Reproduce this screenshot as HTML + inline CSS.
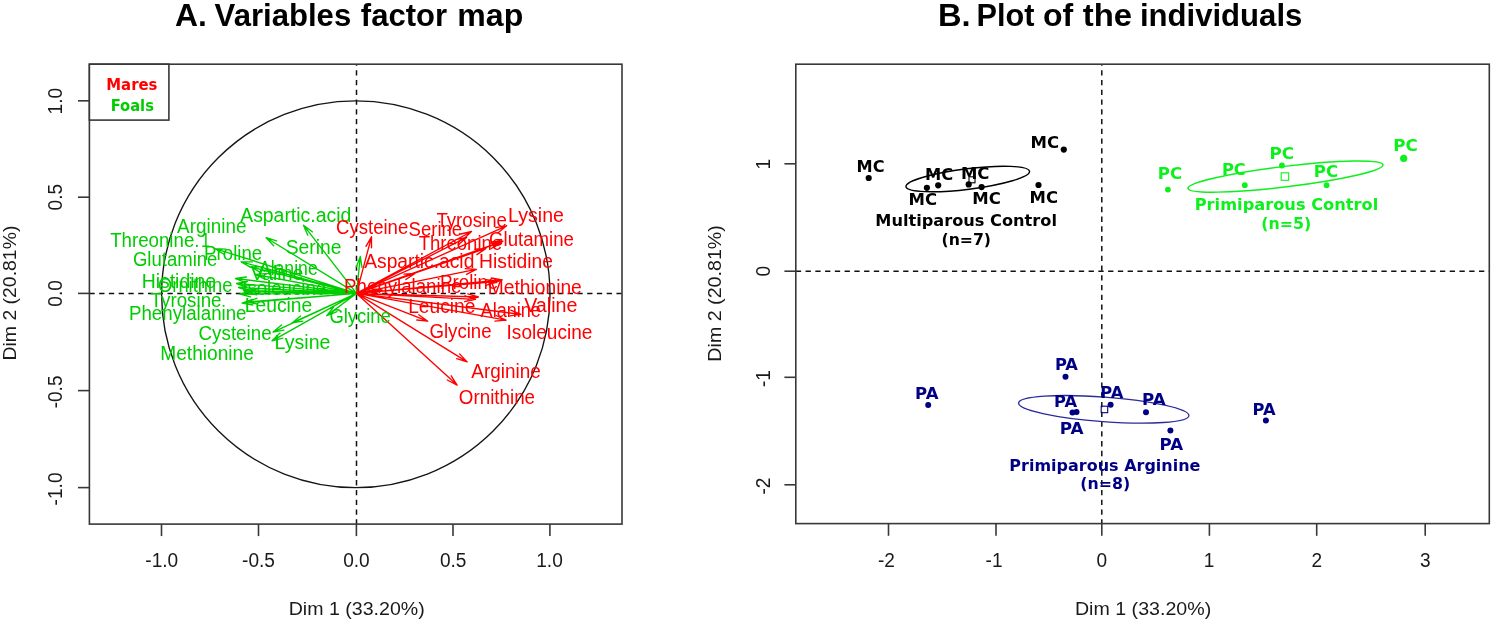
<!DOCTYPE html>
<html lang="en">
<head>
<meta charset="utf-8">
<title>PCA of amino acids: variables factor map and plot of the individuals</title>
<style>
html,body{margin:0;padding:0;background:#fff;}
body{width:1491px;height:620px;overflow:hidden;}
svg{display:block;will-change:transform;}
text{white-space:pre;}
</style>
</head>
<body>
<svg width="1491" height="620" viewBox="0 0 1491 620">
<rect width="1491" height="620" fill="#fff"/>
<g font-family='"Liberation Sans", Arial, sans-serif'>
<text y="25.50" font-size="31.0" font-weight="bold" fill="#000"><tspan x="175.00" textLength="31.82" lengthAdjust="spacingAndGlyphs">A.</tspan> <tspan x="214.64" textLength="136.57" lengthAdjust="spacingAndGlyphs">Variables</tspan> <tspan x="360.83" textLength="86.28" lengthAdjust="spacingAndGlyphs">factor</tspan> <tspan x="457.32" textLength="65.90" lengthAdjust="spacingAndGlyphs">map</tspan></text>
<text y="25.50" font-size="31.0" font-weight="bold" fill="#000"><tspan x="937.98" textLength="32.60" lengthAdjust="spacingAndGlyphs">B.</tspan> <tspan x="976.51" textLength="57.91" lengthAdjust="spacingAndGlyphs">Plot</tspan> <tspan x="1042.92" textLength="30.25" lengthAdjust="spacingAndGlyphs">of</tspan> <tspan x="1082.77" textLength="49.38" lengthAdjust="spacingAndGlyphs">the</tspan> <tspan x="1139.92" textLength="162.42" lengthAdjust="spacingAndGlyphs">individuals</tspan></text>
<g stroke="#111" stroke-width="1.5" stroke-dasharray="5.3 4.46" fill="none">
<line x1="89.4" y1="293.4" x2="622.0" y2="293.4"/>
<line x1="356.5" y1="64.2" x2="356.5" y2="524.1" stroke-dashoffset="3.76"/>
</g>
<ellipse cx="355.8" cy="294.3" rx="194.2" ry="193.4" fill="none" stroke="#151515" stroke-width="1.35"/>
<g stroke="#383838" stroke-width="1.6" fill="none">
<rect x="89.4" y="64.2" width="532.6" height="459.9"/>
<rect x="89.4" y="64.2" width="79.5" height="55.9" fill="#fff"/>
<line x1="161.5" y1="524.1" x2="161.5" y2="536.1"/>
<line x1="89.4" y1="487.6" x2="78.0" y2="487.6"/>
<line x1="258.5" y1="524.1" x2="258.5" y2="536.1"/>
<line x1="89.4" y1="390.6" x2="78.0" y2="390.6"/>
<line x1="356.4" y1="524.1" x2="356.4" y2="536.1"/>
<line x1="89.4" y1="293.4" x2="78.0" y2="293.4"/>
<line x1="453.0" y1="524.1" x2="453.0" y2="536.1"/>
<line x1="89.4" y1="197.2" x2="78.0" y2="197.2"/>
<line x1="549.9" y1="524.1" x2="549.9" y2="536.1"/>
<line x1="89.4" y1="100.8" x2="78.0" y2="100.8"/>
</g>
<text x="145.28" y="567.00" font-size="19.6" font-weight="normal" fill="#1a1a1a" textLength="32.91" lengthAdjust="spacingAndGlyphs" >-1.0</text>
<text transform="rotate(-90)" x="-505.42" y="62.30" font-size="19.6" font-weight="normal" fill="#1a1a1a" textLength="32.91" lengthAdjust="spacingAndGlyphs">-1.0</text>
<text x="242.03" y="567.00" font-size="19.6" font-weight="normal" fill="#1a1a1a" textLength="32.91" lengthAdjust="spacingAndGlyphs" >-0.5</text>
<text transform="rotate(-90)" x="-408.37" y="62.30" font-size="19.6" font-weight="normal" fill="#1a1a1a" textLength="32.91" lengthAdjust="spacingAndGlyphs">-0.5</text>
<text x="343.18" y="567.00" font-size="19.6" font-weight="normal" fill="#1a1a1a" textLength="26.55" lengthAdjust="spacingAndGlyphs" >0.0</text>
<text transform="rotate(-90)" x="-306.72" y="62.30" font-size="19.6" font-weight="normal" fill="#1a1a1a" textLength="26.55" lengthAdjust="spacingAndGlyphs">0.0</text>
<text x="439.93" y="567.00" font-size="19.6" font-weight="normal" fill="#1a1a1a" textLength="26.55" lengthAdjust="spacingAndGlyphs" >0.5</text>
<text transform="rotate(-90)" x="-210.47" y="62.30" font-size="19.6" font-weight="normal" fill="#1a1a1a" textLength="26.55" lengthAdjust="spacingAndGlyphs">0.5</text>
<text x="536.24" y="567.00" font-size="19.6" font-weight="normal" fill="#1a1a1a" textLength="26.55" lengthAdjust="spacingAndGlyphs" >1.0</text>
<text transform="rotate(-90)" x="-114.46" y="62.30" font-size="19.6" font-weight="normal" fill="#1a1a1a" textLength="26.55" lengthAdjust="spacingAndGlyphs">1.0</text>
<text x="288.73" y="614.60" font-size="18.9" font-weight="normal" fill="#1a1a1a" textLength="135.98" lengthAdjust="spacingAndGlyphs" >Dim 1 (33.20%)</text>
<text transform="rotate(-90)" x="-360.55" y="15.60" font-size="18.9" font-weight="normal" fill="#1a1a1a" textLength="134.96" lengthAdjust="spacingAndGlyphs">Dim 2 (20.81%)</text>
<path fill="none" stroke="#00cd00" stroke-width="1.35" stroke-linecap="round" d="M356.5 293.4L303.5 225.2M303.5 225.2L312.3 231.8M303.5 225.2L307.8 235.3M356.5 293.4L266.1 237.7M266.1 237.7L276.6 240.8M266.1 237.7L273.7 245.7M356.5 293.4L215.0 248.6M215.0 248.6L226.0 249.1M215.0 248.6L224.3 254.5M356.5 293.4L241.2 261.8M241.2 261.8L252.2 261.9M241.2 261.8L250.7 267.4M356.5 293.4L250.8 267.0M250.8 267.0L261.8 266.8M250.8 267.0L260.4 272.3M356.5 293.4L255.0 274.5M255.0 274.5L266.0 273.6M255.0 274.5L264.9 279.2M356.5 293.4L235.5 278.5M235.5 278.5L246.4 277.0M235.5 278.5L245.7 282.6M356.5 293.4L236.5 283.5M236.5 283.5L247.3 281.5M236.5 283.5L246.9 287.2M356.5 293.4L238.5 287.5M238.5 287.5L249.3 285.2M238.5 287.5L249.0 290.9M356.5 293.4L243.5 290.5M243.5 290.5L254.2 287.9M243.5 290.5L254.0 293.6M356.5 293.4L240.0 294.0M240.0 294.0L250.6 291.1M240.0 294.0L250.6 296.8M356.5 293.4L246.0 291.8M246.0 291.8L256.7 289.1M246.0 291.8L256.6 294.8M356.5 293.4L242.1 303.1M242.1 303.1L252.4 299.4M242.1 303.1L252.9 305.0M356.5 293.4L246.5 302.0M246.5 302.0L256.9 298.3M246.5 302.0L257.3 304.0M356.5 293.4L326.8 315.7M326.8 315.7L333.6 307.0M326.8 315.7L337.0 311.6M356.5 293.4L292.0 322.9M292.0 322.9L300.5 315.9M292.0 322.9L302.8 321.1M356.5 293.4L273.1 332.1M273.1 332.1L281.5 325.0M273.1 332.1L283.9 330.2M356.5 293.4L272.1 340.8M272.1 340.8L280.0 333.1M272.1 340.8L282.8 338.1"/>
<path fill="none" stroke="#00cd00" stroke-width="1.35" stroke-linecap="round" d="M356.5 293.4L360.3 256.5M360.3 256.5L362.0 267.4M360.3 256.5L356.4 266.8"/>
<path fill="none" stroke="#ff0000" stroke-width="1.35" stroke-linecap="round" d="M356.5 293.4L371.5 236.8M371.5 236.8L371.5 247.8M371.5 236.8L366.0 246.3M356.5 293.4L506.6 225.8M506.6 225.8L498.1 232.8M506.6 225.8L495.7 227.6M356.5 293.4L471.5 231.5M471.5 231.5L463.5 239.0M471.5 231.5L460.8 234.0M356.5 293.4L466.6 237.4M466.6 237.4L458.4 244.8M466.6 237.4L455.8 239.7M356.5 293.4L502.9 241.1M502.9 241.1L493.9 247.4M502.9 241.1L491.9 242.0M356.5 293.4L500.5 242.3M500.5 242.3L491.4 248.5M500.5 242.3L489.5 243.2M356.5 293.4L486.0 248.4M486.0 248.4L476.9 254.6M486.0 248.4L475.0 249.2M356.5 293.4L476.3 269.4M476.3 269.4L466.4 274.3M476.3 269.4L465.3 268.7M356.5 293.4L502.1 279.8M502.1 279.8L491.8 283.6M502.1 279.8L491.3 278.0M356.5 293.4L497.0 281.5M497.0 281.5L486.7 285.2M497.0 281.5L486.2 279.6M356.5 293.4L415.0 273.4M415.0 273.4L405.9 279.5M415.0 273.4L404.0 274.1M356.5 293.4L382.0 290.0M382.0 290.0L371.8 294.2M382.0 290.0L371.1 288.6M356.5 293.4L478.4 297.0M478.4 297.0L467.7 299.5M478.4 297.0L467.9 293.8M356.5 293.4L475.4 299.3M475.4 299.3L464.6 301.6M475.4 299.3L464.9 295.9M356.5 293.4L520.9 314.4M520.9 314.4L510.0 315.9M520.9 314.4L510.7 310.2M356.5 293.4L506.0 320.2M506.0 320.2L495.0 321.1M506.0 320.2L496.0 315.5M356.5 293.4L427.7 321.2M427.7 321.2L416.8 320.0M427.7 321.2L418.8 314.7M356.5 293.4L467.1 361.9M467.1 361.9L456.6 358.7M467.1 361.9L459.6 353.9M356.5 293.4L457.1 385.1M457.1 385.1L447.3 380.0M457.1 385.1L451.2 375.8"/>
<text x="240.20" y="222.25" font-size="19.5" font-weight="normal" fill="#00cd00" textLength="111.06" lengthAdjust="spacingAndGlyphs" >Aspartic.acid</text>
<text x="177.10" y="233.05" font-size="19.5" font-weight="normal" fill="#00cd00" textLength="69.33" lengthAdjust="spacingAndGlyphs" >Arginine</text>
<text x="204.11" y="260.15" font-size="19.5" font-weight="normal" fill="#00cd00" textLength="58.09" lengthAdjust="spacingAndGlyphs" >Proline</text>
<text x="132.97" y="266.25" font-size="19.5" font-weight="normal" fill="#00cd00" textLength="84.41" lengthAdjust="spacingAndGlyphs" >Glutamine</text>
<text x="285.63" y="253.65" font-size="19.5" font-weight="normal" fill="#00cd00" textLength="55.75" lengthAdjust="spacingAndGlyphs" >Serine</text>
<text x="258.90" y="274.65" font-size="19.5" font-weight="normal" fill="#00cd00" textLength="58.81" lengthAdjust="spacingAndGlyphs" >Alanine</text>
<text x="250.70" y="279.55" font-size="19.5" font-weight="normal" fill="#00cd00" textLength="52.59" lengthAdjust="spacingAndGlyphs" >Valine</text>
<text x="141.65" y="287.55" font-size="19.5" font-weight="normal" fill="#00cd00" textLength="74.53" lengthAdjust="spacingAndGlyphs" >Histidine</text>
<text x="158.08" y="292.45" font-size="19.5" font-weight="normal" fill="#00cd00" textLength="74.30" lengthAdjust="spacingAndGlyphs" >Ornithine</text>
<text x="242.22" y="295.25" font-size="19.5" font-weight="normal" fill="#00cd00" textLength="83.97" lengthAdjust="spacingAndGlyphs" >Isoleucine</text>
<text x="150.62" y="306.85" font-size="19.5" font-weight="normal" fill="#00cd00" textLength="70.91" lengthAdjust="spacingAndGlyphs" >Tyrosine</text>
<text x="244.76" y="312.05" font-size="19.5" font-weight="normal" fill="#00cd00" textLength="67.47" lengthAdjust="spacingAndGlyphs" >Leucine</text>
<text x="129.00" y="320.45" font-size="19.5" font-weight="normal" fill="#00cd00" textLength="117.49" lengthAdjust="spacingAndGlyphs" >Phenylalanine</text>
<text x="329.38" y="322.95" font-size="19.5" font-weight="normal" fill="#00cd00" textLength="61.44" lengthAdjust="spacingAndGlyphs" >Glycine</text>
<text x="198.56" y="340.15" font-size="19.5" font-weight="normal" fill="#00cd00" textLength="73.10" lengthAdjust="spacingAndGlyphs" >Cysteine</text>
<text x="274.64" y="349.25" font-size="19.5" font-weight="normal" fill="#00cd00" textLength="55.82" lengthAdjust="spacingAndGlyphs" >Lysine</text>
<text x="160.27" y="360.25" font-size="19.5" font-weight="normal" fill="#00cd00" textLength="93.64" lengthAdjust="spacingAndGlyphs" >Methionine</text>
<text y="246.95" font-size="19.5" font-weight="normal" fill="#00cd00"><tspan x="110.13" textLength="89.37" lengthAdjust="spacingAndGlyphs">Threonine.</tspan><tspan x="200.96" textLength="9.21" lengthAdjust="spacingAndGlyphs">1</tspan></text>
<text x="336.07" y="233.75" font-size="19.5" font-weight="normal" fill="#ff0000" textLength="72.18" lengthAdjust="spacingAndGlyphs" >Cysteine</text>
<text x="408.57" y="236.45" font-size="19.5" font-weight="normal" fill="#ff0000" textLength="53.58" lengthAdjust="spacingAndGlyphs" >Serine</text>
<text x="436.43" y="226.75" font-size="19.5" font-weight="normal" fill="#ff0000" textLength="70.50" lengthAdjust="spacingAndGlyphs" >Tyrosine</text>
<text x="508.14" y="222.45" font-size="19.5" font-weight="normal" fill="#ff0000" textLength="55.82" lengthAdjust="spacingAndGlyphs" >Lysine</text>
<text x="418.63" y="249.85" font-size="19.5" font-weight="normal" fill="#ff0000" textLength="83.56" lengthAdjust="spacingAndGlyphs" >Threonine</text>
<text x="489.07" y="246.15" font-size="19.5" font-weight="normal" fill="#ff0000" textLength="84.92" lengthAdjust="spacingAndGlyphs" >Glutamine</text>
<text x="364.20" y="268.05" font-size="19.5" font-weight="normal" fill="#ff0000" textLength="110.15" lengthAdjust="spacingAndGlyphs" >Aspartic.acid</text>
<text x="479.06" y="267.55" font-size="19.5" font-weight="normal" fill="#ff0000" textLength="73.91" lengthAdjust="spacingAndGlyphs" >Histidine</text>
<text x="344.11" y="292.55" font-size="19.5" font-weight="normal" fill="#ff0000" textLength="117.29" lengthAdjust="spacingAndGlyphs" >Phenylalanine</text>
<text x="440.11" y="288.55" font-size="19.5" font-weight="normal" fill="#ff0000" textLength="58.09" lengthAdjust="spacingAndGlyphs" >Proline</text>
<text x="487.76" y="294.15" font-size="19.5" font-weight="normal" fill="#ff0000" textLength="94.05" lengthAdjust="spacingAndGlyphs" >Methionine</text>
<text x="408.16" y="312.55" font-size="19.5" font-weight="normal" fill="#ff0000" textLength="67.26" lengthAdjust="spacingAndGlyphs" >Leucine</text>
<text x="480.60" y="317.45" font-size="19.5" font-weight="normal" fill="#ff0000" textLength="60.33" lengthAdjust="spacingAndGlyphs" >Alanine</text>
<text x="524.20" y="311.65" font-size="19.5" font-weight="normal" fill="#ff0000" textLength="53.30" lengthAdjust="spacingAndGlyphs" >Valine</text>
<text x="429.47" y="337.95" font-size="19.5" font-weight="normal" fill="#ff0000" textLength="62.06" lengthAdjust="spacingAndGlyphs" >Glycine</text>
<text x="506.59" y="339.15" font-size="19.5" font-weight="normal" fill="#ff0000" textLength="85.73" lengthAdjust="spacingAndGlyphs" >Isoleucine</text>
<text x="471.30" y="378.25" font-size="19.5" font-weight="normal" fill="#ff0000" textLength="69.54" lengthAdjust="spacingAndGlyphs" >Arginine</text>
<text x="458.86" y="404.45" font-size="19.5" font-weight="normal" fill="#ff0000" textLength="76.14" lengthAdjust="spacingAndGlyphs" >Ornithine</text>
</g>
<g font-family='"DejaVu Sans", Verdana, sans-serif'>
<text x="106.26" y="90.00" font-size="15.0" font-weight="bold" fill="#ff0000" textLength="51.24" lengthAdjust="spacingAndGlyphs" >Mares</text>
<text x="110.68" y="110.80" font-size="15.0" font-weight="bold" fill="#00cd00" textLength="43.22" lengthAdjust="spacingAndGlyphs" >Foals</text>
</g>
<g stroke="#111" stroke-width="1.5" stroke-dasharray="5.3 4.46" fill="none">
<line x1="795.8" y1="271.2" x2="1489.3" y2="271.2"/>
<line x1="1101.8" y1="64.2" x2="1101.8" y2="523.6" stroke-dashoffset="3.76"/>
</g>
<g stroke="#383838" stroke-width="1.6" fill="none">
<rect x="795.8" y="64.2" width="693.5" height="459.4"/>
<line x1="888.5" y1="523.6" x2="888.5" y2="535.8"/>
<line x1="996.0" y1="523.6" x2="996.0" y2="535.8"/>
<line x1="1101.8" y1="523.6" x2="1101.8" y2="535.8"/>
<line x1="1209.4" y1="523.6" x2="1209.4" y2="535.8"/>
<line x1="1316.7" y1="523.6" x2="1316.7" y2="535.8"/>
<line x1="1425.2" y1="523.6" x2="1425.2" y2="535.8"/>
<line x1="795.8" y1="484.8" x2="784.4" y2="484.8"/>
<line x1="795.8" y1="377.3" x2="784.4" y2="377.3"/>
<line x1="795.8" y1="271.2" x2="784.4" y2="271.2"/>
<line x1="795.8" y1="163.8" x2="784.4" y2="163.8"/>
</g>
<g font-family='"Liberation Sans", Arial, sans-serif'>
<text x="877.94" y="567.00" font-size="19.6" font-weight="normal" fill="#1a1a1a" textLength="16.98" lengthAdjust="spacingAndGlyphs" >-2</text>
<text x="985.54" y="567.00" font-size="19.6" font-weight="normal" fill="#1a1a1a" textLength="16.98" lengthAdjust="spacingAndGlyphs" >-1</text>
<text x="1096.45" y="567.00" font-size="19.6" font-weight="normal" fill="#1a1a1a" textLength="10.62" lengthAdjust="spacingAndGlyphs" >0</text>
<text x="1203.81" y="567.00" font-size="19.6" font-weight="normal" fill="#1a1a1a" textLength="10.62" lengthAdjust="spacingAndGlyphs" >1</text>
<text x="1311.40" y="567.00" font-size="19.6" font-weight="normal" fill="#1a1a1a" textLength="10.62" lengthAdjust="spacingAndGlyphs" >2</text>
<text x="1419.90" y="567.00" font-size="19.6" font-weight="normal" fill="#1a1a1a" textLength="10.62" lengthAdjust="spacingAndGlyphs" >3</text>
<text transform="rotate(-90)" x="-494.55" y="769.80" font-size="19.6" font-weight="normal" fill="#1a1a1a" textLength="16.98" lengthAdjust="spacingAndGlyphs">-2</text>
<text transform="rotate(-90)" x="-387.10" y="769.80" font-size="19.6" font-weight="normal" fill="#1a1a1a" textLength="16.98" lengthAdjust="spacingAndGlyphs">-1</text>
<text transform="rotate(-90)" x="-276.55" y="769.80" font-size="19.6" font-weight="normal" fill="#1a1a1a" textLength="10.62" lengthAdjust="spacingAndGlyphs">0</text>
<text transform="rotate(-90)" x="-169.39" y="769.80" font-size="19.6" font-weight="normal" fill="#1a1a1a" textLength="10.62" lengthAdjust="spacingAndGlyphs">1</text>
<text x="1074.93" y="614.60" font-size="18.9" font-weight="normal" fill="#1a1a1a" textLength="136.28" lengthAdjust="spacingAndGlyphs" >Dim 1 (33.20%)</text>
<text transform="rotate(-90)" x="-361.67" y="721.20" font-size="18.9" font-weight="normal" fill="#1a1a1a" textLength="136.49" lengthAdjust="spacingAndGlyphs">Dim 2 (20.81%)</text>
</g>
<g font-family='"DejaVu Sans", Verdana, sans-serif'>
<ellipse cx="967.8" cy="179.0" rx="62.3" ry="10.3" transform="rotate(-7.1 967.8 179.0)" fill="none" stroke="#000000" stroke-width="1.4"/>
<rect x="969.0" y="176.8" width="6.0" height="6.0" fill="none" stroke="#000000" stroke-width="1.1"/>
<circle cx="868.7" cy="178.0" r="3.1" fill="#000000"/>
<circle cx="926.9" cy="187.8" r="3.1" fill="#000000"/>
<circle cx="938.2" cy="185.3" r="3.1" fill="#000000"/>
<circle cx="968.7" cy="184.4" r="3.1" fill="#000000"/>
<circle cx="981.6" cy="187.1" r="3.1" fill="#000000"/>
<circle cx="1038.5" cy="185.0" r="3.1" fill="#000000"/>
<circle cx="1063.8" cy="149.6" r="3.1" fill="#000000"/>
<text x="856.64" y="172.40" font-size="15.0" font-weight="bold" fill="#000000" textLength="27.99" lengthAdjust="spacingAndGlyphs" >MC</text>
<text x="908.51" y="205.10" font-size="15.0" font-weight="bold" fill="#000000" textLength="28.54" lengthAdjust="spacingAndGlyphs" >MC</text>
<text x="925.03" y="180.30" font-size="15.0" font-weight="bold" fill="#000000" textLength="28.21" lengthAdjust="spacingAndGlyphs" >MC</text>
<text x="960.91" y="179.20" font-size="15.0" font-weight="bold" fill="#000000" textLength="28.54" lengthAdjust="spacingAndGlyphs" >MC</text>
<text x="972.21" y="204.20" font-size="15.0" font-weight="bold" fill="#000000" textLength="28.54" lengthAdjust="spacingAndGlyphs" >MC</text>
<text x="1029.62" y="203.10" font-size="15.0" font-weight="bold" fill="#000000" textLength="28.43" lengthAdjust="spacingAndGlyphs" >MC</text>
<text x="1030.51" y="148.00" font-size="15.0" font-weight="bold" fill="#000000" textLength="28.54" lengthAdjust="spacingAndGlyphs" >MC</text>
<text x="875.34" y="226.10" font-size="15.0" font-weight="bold" fill="#000000" textLength="181.67" lengthAdjust="spacingAndGlyphs" >Multiparous Control</text>
<text x="941.47" y="244.90" font-size="15.0" font-weight="bold" fill="#000000" textLength="49.56" lengthAdjust="spacingAndGlyphs" >(n=7)</text>
<ellipse cx="1285.5" cy="176.6" rx="98.2" ry="10.3" transform="rotate(-6.86 1285.5 176.6)" fill="none" stroke="#0cf01c" stroke-width="1.5"/>
<rect x="1281.2" y="172.8" width="7.5" height="7.5" fill="none" stroke="#0cf01c" stroke-width="1.1"/>
<circle cx="1167.9" cy="189.6" r="2.9" fill="#0cf01c"/>
<circle cx="1244.8" cy="185.2" r="2.9" fill="#0cf01c"/>
<circle cx="1281.9" cy="165.5" r="2.9" fill="#0cf01c"/>
<circle cx="1326.6" cy="185.2" r="2.9" fill="#0cf01c"/>
<circle cx="1403.7" cy="158.4" r="3.6" fill="#0cf01c"/>
<text x="1157.81" y="178.70" font-size="15.0" font-weight="bold" fill="#0cf01c" textLength="24.32" lengthAdjust="spacingAndGlyphs" >PC</text>
<text x="1221.94" y="175.30" font-size="15.0" font-weight="bold" fill="#0cf01c" textLength="23.87" lengthAdjust="spacingAndGlyphs" >PC</text>
<text x="1269.49" y="158.80" font-size="15.0" font-weight="bold" fill="#0cf01c" textLength="24.54" lengthAdjust="spacingAndGlyphs" >PC</text>
<text x="1313.81" y="177.00" font-size="15.0" font-weight="bold" fill="#0cf01c" textLength="24.32" lengthAdjust="spacingAndGlyphs" >PC</text>
<text x="1393.19" y="150.60" font-size="15.0" font-weight="bold" fill="#0cf01c" textLength="24.54" lengthAdjust="spacingAndGlyphs" >PC</text>
<text x="1194.74" y="210.10" font-size="15.0" font-weight="bold" fill="#0cf01c" textLength="183.52" lengthAdjust="spacingAndGlyphs" >Primiparous Control</text>
<text x="1261.26" y="229.40" font-size="15.0" font-weight="bold" fill="#0cf01c" textLength="49.88" lengthAdjust="spacingAndGlyphs" >(n=5)</text>
<ellipse cx="1103.75" cy="409.35" rx="85.4" ry="12.3" transform="rotate(4.27 1103.75 409.35)" fill="none" stroke="#2a2a9c" stroke-width="1.3"/>
<rect x="1101.2" y="406.2" width="6.5" height="6.5" fill="none" stroke="#000084" stroke-width="1.1"/>
<circle cx="928.2" cy="404.9" r="3.0" fill="#000084"/>
<circle cx="1065.5" cy="376.8" r="3.0" fill="#000084"/>
<circle cx="1072.5" cy="412.4" r="3.0" fill="#000084"/>
<circle cx="1076.5" cy="411.9" r="3.0" fill="#000084"/>
<circle cx="1110.6" cy="404.7" r="3.0" fill="#000084"/>
<circle cx="1146.0" cy="412.2" r="3.0" fill="#000084"/>
<circle cx="1170.4" cy="430.4" r="3.0" fill="#000084"/>
<circle cx="1265.9" cy="420.5" r="3.0" fill="#000084"/>
<text x="915.11" y="399.00" font-size="15.0" font-weight="bold" fill="#000084" textLength="23.37" lengthAdjust="spacingAndGlyphs" >PA</text>
<text x="1054.93" y="369.50" font-size="15.0" font-weight="bold" fill="#000084" textLength="23.05" lengthAdjust="spacingAndGlyphs" >PA</text>
<text x="1054.13" y="406.50" font-size="15.0" font-weight="bold" fill="#000084" textLength="23.05" lengthAdjust="spacingAndGlyphs" >PA</text>
<text x="1059.68" y="434.20" font-size="15.0" font-weight="bold" fill="#000084" textLength="23.90" lengthAdjust="spacingAndGlyphs" >PA</text>
<text x="1100.23" y="398.00" font-size="15.0" font-weight="bold" fill="#000084" textLength="23.05" lengthAdjust="spacingAndGlyphs" >PA</text>
<text x="1142.10" y="404.90" font-size="15.0" font-weight="bold" fill="#000084" textLength="23.58" lengthAdjust="spacingAndGlyphs" >PA</text>
<text x="1159.50" y="450.00" font-size="15.0" font-weight="bold" fill="#000084" textLength="23.58" lengthAdjust="spacingAndGlyphs" >PA</text>
<text x="1252.63" y="415.10" font-size="15.0" font-weight="bold" fill="#000084" textLength="23.05" lengthAdjust="spacingAndGlyphs" >PA</text>
<text x="1009.36" y="470.70" font-size="15.0" font-weight="bold" fill="#000084" textLength="191.07" lengthAdjust="spacingAndGlyphs" >Primiparous Arginine</text>
<text x="1080.26" y="488.90" font-size="15.0" font-weight="bold" fill="#000084" textLength="49.88" lengthAdjust="spacingAndGlyphs" >(n=8)</text>
</g>
</svg>
</body>
</html>
